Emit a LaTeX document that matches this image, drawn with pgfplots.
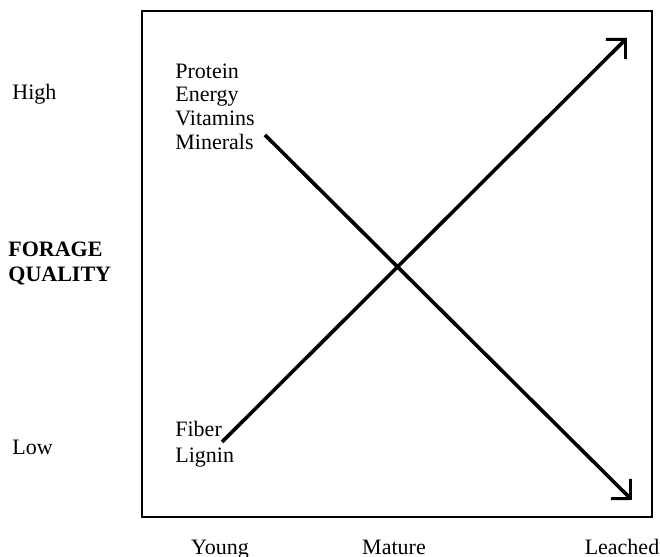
\documentclass[border=0pt]{standalone}
\usepackage{fontspec}
\setmainfont{Liberation Serif}
\usepackage{pgfplots}
\pgfplotsset{compat=1.18}
\usetikzlibrary{arrows.meta}

\begin{document}
\begin{tikzpicture}[font=\fontsize{11}{12}\selectfont]
\begin{axis}[
    % box is 510 x 506 px of the 660 x 557 picture (1 px = 0.5 pt)
    scale only axis,
    width=255pt, height=253pt,
    xmin=142, xmax=652, ymin=40, ymax=546,
    axis line style={line width=1.4pt},
    xtick={220,394,622},
    xticklabels={Young,Mature,Leached},
    ytick=\empty,
    major tick length=0pt,
    xticklabel style={anchor=base, yshift=-19pt, inner sep=0pt},
    clip=false,
]

% quality components rising with maturity
\addplot[line width=1.8pt, -{Straight Barb[length=7pt,width=14pt,line width=1.4pt]}]
    coordinates {(222,115) (627,519)};
% quality components falling with maturity
\addplot[line width=1.8pt, -{Straight Barb[length=7pt,width=14pt,line width=1.4pt]}]
    coordinates {(265,422) (632,57)};

\node[anchor=base west, inner sep=0pt] at (axis cs:175,478) {Protein};
\node[anchor=base west, inner sep=0pt] at (axis cs:175,455) {Energy};
\node[anchor=base west, inner sep=0pt] at (axis cs:175,431) {Vitamins};
\node[anchor=base west, inner sep=0pt] at (axis cs:175,407) {Minerals};
\node[anchor=base west, inner sep=0pt] at (axis cs:175,120) {Fiber};
\node[anchor=base west, inner sep=0pt] at (axis cs:175,94) {Lignin};

% y-axis wording
\node[anchor=base west, inner sep=0pt] at (axis cs:12,457) {High};
\node[anchor=base west, inner sep=0pt] at (axis cs:12,102) {Low};
\node[anchor=base west, inner sep=0pt, font=\fontsize{11}{12}\selectfont\bfseries] at (axis cs:8,300) {FORAGE};
\node[anchor=base west, inner sep=0pt, font=\fontsize{11}{12}\selectfont\bfseries] at (axis cs:8,275) {QUALITY};

\coordinate (bl) at (axis cs:0,0);
\coordinate (tr) at (axis cs:660,557);
\end{axis}
\pgfresetboundingbox
\useasboundingbox (bl) rectangle (tr);
\end{tikzpicture}
\end{document}
